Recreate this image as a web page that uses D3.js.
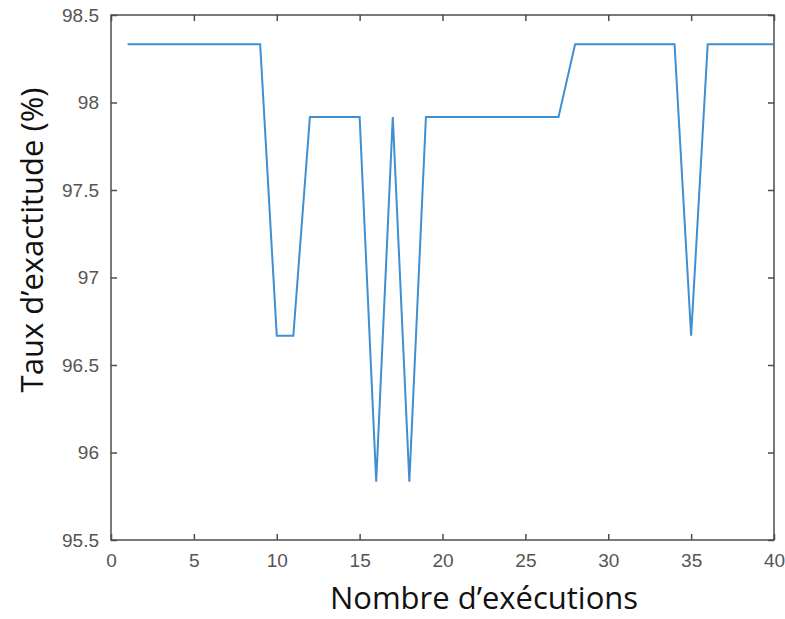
<!DOCTYPE html>
<html>
<head>
<meta charset="utf-8">
<script src="https://cdn.jsdelivr.net/npm/d3@7"></script>
<style>
  body { margin: 0; background: #fff; }
</style>
</head>
<body>
<div id="chart"></div>
<script>
// runs 1..40 and accuracy (%)
var runs = d3.range(1, 41);
var accuracy = [
  98.333, 98.333, 98.333, 98.333, 98.333, 98.333, 98.333, 98.333, 98.333,
  96.667, 96.667,
  97.917, 97.917, 97.917, 97.917,
  95.833, 97.917, 95.833,
  97.917, 97.917, 97.917, 97.917, 97.917, 97.917, 97.917, 97.917, 97.917,
  98.333, 98.333, 98.333, 98.333, 98.333, 98.333, 98.333,
  96.667,
  98.333, 98.333, 98.333, 98.333, 98.333
];
var xTicks = [0, 5, 10, 15, 20, 25, 30, 35, 40];
var yTicks = [95.5, 96, 96.5, 97, 97.5, 98, 98.5];

var margin = {top: 15, right: 11, bottom: 79, left: 111};
var W = 785, H = 619;
var width = W - margin.left - margin.right;
var height = H - margin.top - margin.bottom;

var data = runs.map(function(r, i) { return {run: r, acc: accuracy[i]}; });

var svg = d3.select("#chart").append("svg").attr("width", W).attr("height", H);
var g = svg.append("g").attr("transform", "translate(" + margin.left + "," + margin.top + ")");

var x = d3.scaleLinear().domain([0, 40]).range([0, width]);
var y = d3.scaleLinear().domain([95.5, 98.5]).range([height, 0]);

var axisColor = "#4d4d4d";
var tickLen = 6;

// box
g.append("rect").attr("x", 0).attr("y", 0).attr("width", width).attr("height", height)
  .attr("fill", "none").attr("stroke", axisColor).attr("stroke-width", 1.5);

// bottom axis, ticks inward
g.append("g").attr("transform", "translate(0," + height + ")")
  .call(d3.axisBottom(x).tickValues(xTicks).tickSizeInner(-tickLen).tickSizeOuter(0).tickPadding(14).tickFormat(d3.format("d")));
// top ticks
g.append("g").call(d3.axisTop(x).tickValues(xTicks).tickSizeInner(-tickLen).tickSizeOuter(0).tickFormat(""));
// left axis
g.append("g")
  .call(d3.axisLeft(y).tickValues(yTicks).tickSizeInner(-tickLen).tickSizeOuter(0).tickPadding(12).tickFormat(d3.format("")));
// right ticks
g.append("g").attr("transform", "translate(" + width + ",0)")
  .call(d3.axisRight(y).tickValues(yTicks).tickSizeInner(-tickLen).tickSizeOuter(0).tickFormat(""));

g.selectAll(".domain").remove();
g.selectAll(".tick line").attr("stroke", axisColor).attr("stroke-width", 1.5);
g.selectAll(".tick text").attr("fill", "#555").style("font-family", "'Liberation Sans', Arial, sans-serif").style("font-size", "19px");

// line
var line = d3.line().x(function(d) { return x(d.run); }).y(function(d) { return y(d.acc); });
g.append("path").datum(data).attr("d", line)
  .attr("fill", "none").attr("stroke", "#3f8fd2").attr("stroke-width", 2).attr("stroke-linejoin", "miter");

// axis titles
svg.append("text").attr("x", 484).attr("y", 609)
  .attr("text-anchor", "middle").style("font-family", "'Open Sans', sans-serif").style("font-size", "31px").attr("fill", "#111")
  .text("Nombre d’exécutions");

svg.append("text").attr("transform", "translate(43,240) rotate(-90)")
  .attr("text-anchor", "middle").style("font-family", "'Open Sans', sans-serif").style("font-size", "31px").attr("fill", "#111")
  .text("Taux d’exactitude (%)");
</script>
</body>
</html>
